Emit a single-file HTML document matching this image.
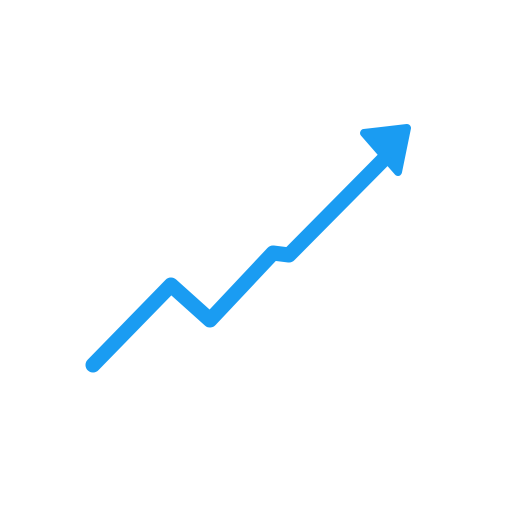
<!DOCTYPE html>
<html><head><meta charset="utf-8"><style>html,body{margin:0;padding:0;background:#fff;width:512px;height:512px;overflow:hidden}</style></head>
<body>
<svg id="chart" width="512" height="512" viewBox="0 0 512 512" xmlns="http://www.w3.org/2000/svg">
<rect width="512" height="512" fill="#fff"/>
</svg>
<script>
var steps = [0, 1, 2, 3, 4, 5];
var values = [0, 80, 45, 112, 110, 210];
var xs = [93, 171, 210, 273, 289, 388];
function yScale(v){ return 365 - v; }
var svg = document.getElementById('chart');
var ns = 'http://www.w3.org/2000/svg';
var d = steps.map(function(s,i){ return (i?'L':'M') + xs[i] + ' ' + yScale(values[i]); }).join(' ');
var line = document.createElementNS(ns,'path');
line.setAttribute('d', d);
line.setAttribute('fill','none');
line.setAttribute('stroke','#1a9cf2');
line.setAttribute('stroke-width','15');
line.setAttribute('stroke-linecap','round');
line.setAttribute('stroke-linejoin','round');


svg.appendChild(line);
var head = document.createElementNS(ns,'path');
head.setAttribute('d','M364 133 L407 128 L398 172 Z');
head.setAttribute('fill','#1a9cf2');
head.setAttribute('stroke','#1a9cf2');
head.setAttribute('stroke-width','8');
head.setAttribute('stroke-linejoin','round');


svg.appendChild(head);
</script>
</body></html>
